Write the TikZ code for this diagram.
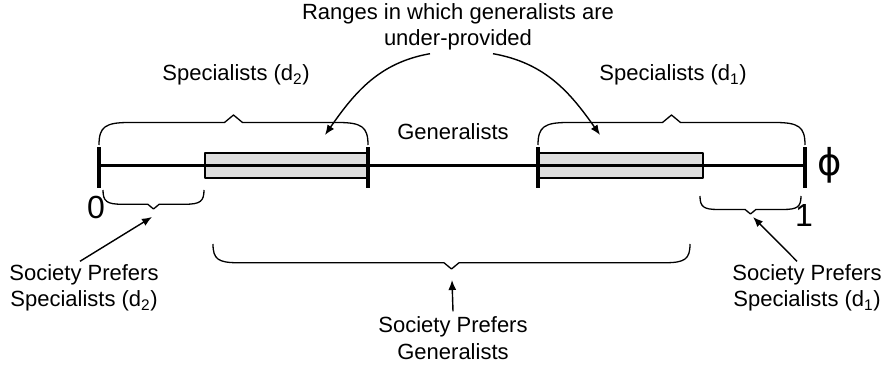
\documentclass[tikz,border=0pt]{standalone}
\usepackage{fontspec}
\setmainfont{Liberation Sans}
\newfontfamily\symfnt{DejaVu Sans}
\usetikzlibrary{arrows.meta}

\tikzset{
  brcline/.style={line width=1.3pt},
  lbl/.style={font=\fontsize{22}{26.5}\selectfont,align=center,inner sep=0pt},
  big/.style={font=\fontsize{32}{32}\selectfont,inner sep=0pt},
  arr/.style={-{Latex[length=10pt,width=8pt]},line width=1.4pt},
  gapbox/.style={draw,line width=1.1pt,fill=black!13},
}
% brace from x #1 to x #2 at height #3, tip offset #4 (negative: tip down)
\newcommand{\wbrace}[4]{%
  \draw[brcline] (#1,#3) .. controls (#1,{#3+0.6*(#4)}) and ({#1+0.2*abs(#4)},{#3+0.75*(#4)}) .. ({#1+abs(#4)},{#3+0.75*(#4)})
    -- ({(#1+#2)/2-0.3*abs(#4)},{#3+0.75*(#4)}) -- ({(#1+#2)/2},{#3+#4}) -- ({(#1+#2)/2+0.3*abs(#4)},{#3+0.75*(#4)})
    -- ({#2-abs(#4)},{#3+0.75*(#4)}) .. controls ({#2-0.2*abs(#4)},{#3+0.75*(#4)}) and (#2,{#3+0.6*(#4)}) .. (#2,#3);}

\begin{document}
\begin{tikzpicture}[x=1pt,y=1pt,line join=round]
  \useasboundingbox (0,0) rectangle (886,369);
  % ranges where generalists are under-provided
  \draw[gapbox] (205,191) rectangle (368,216);
  \draw[gapbox] (538,191) rectangle (703,216);
  % the phi line
  \draw[line width=3pt] (99,203)--(805,203);
  \foreach \x in {99,368,538,805}
    \draw[line width=4pt] (\x,181)--(\x,222);
  % braces
  \wbrace{99}{368}{224}{30}
  \wbrace{538}{805}{224}{30}
  \wbrace{103}{204}{179}{-19}
  \wbrace{700}{801}{173}{-18}
  \wbrace{213}{690}{125}{-25}
  % arrow ends
  \coordinate (lgap) at (325,234);
  \coordinate (rgap) at (600,234);
  \coordinate (ltip) at (152,152);
  \coordinate (rtip) at (753,152);
  \coordinate (gtip) at (452,89);
  % labels
  \node[big] (zero) at (96,162) {0};
  \node[big] (one) at (804,154) {1};
  \node[big,font=\fontsize{37}{37}\symfnt] (phi) at (830,204) {ϕ};
  \node[lbl] (rng) at (458,342) {Ranges in which generalists are\\under-provided};
  \node[lbl] (spectwo) at (236,294) {Specialists (d\textsubscript{2})};
  \node[lbl] (specone) at (673,294) {Specialists (d\textsubscript{1})};
  \node[lbl] (gen) at (453,237) {Generalists};
  \node[lbl] (lsoc) at (84,81) {Society Prefers\\Specialists (d\textsubscript{2})};
  \node[lbl] (rsoc) at (807,81) {Society Prefers\\Specialists (d\textsubscript{1})};
  \node[lbl] (gsoc) at (453,31) {Society Prefers\\Generalists};
  % arrows
  \draw[arr] ([xshift=-28pt,yshift=-3pt]rng.south) to[out=190,in=55] (lgap);
  \draw[arr] ([xshift=35pt,yshift=-3pt]rng.south) to[out=-10,in=125] (rgap);
  \draw[arr] ([xshift=-4pt,yshift=3pt]lsoc.north) -- (ltip);
  \draw[arr] ([xshift=-10pt,yshift=3pt]rsoc.north) -- (rtip);
  \draw[arr] ([yshift=5pt]gsoc.north) -- (gtip);
\end{tikzpicture}
\end{document}
